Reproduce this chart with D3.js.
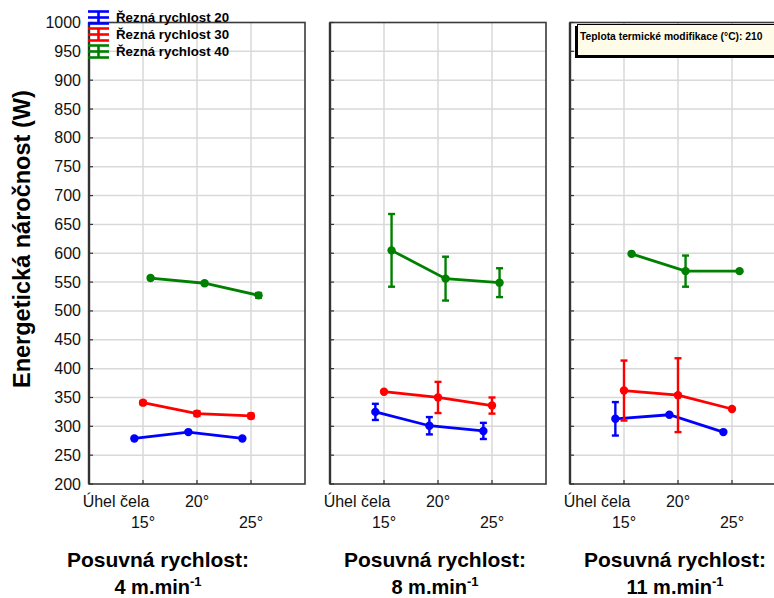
<!DOCTYPE html>
<html>
<head>
<meta charset="utf-8">
<script src="https://cdn.jsdelivr.net/npm/d3@7"></script>
<style>
  html, body { margin: 0; padding: 0; background: #fff; overflow: hidden; }
  svg { display: block; font-family: "Liberation Sans", Arial, sans-serif; }
</style>
</head>
<body>
<svg id="chart" width="774" height="598"></svg>
<script>
// Cutting angle categories and feed-speed panels
const angles = ["15°", "20°", "25°"];
const feedSpeeds = ["4", "8", "11"];
const seriesNames = ["Řezná rychlost 20", "Řezná rychlost 30", "Řezná rychlost 40"];
const yTicks = [200, 250, 300, 350, 400, 450, 500, 550, 600, 650, 700, 750, 800, 850, 900, 950, 1000];

// Mean energy demand (W); one row per panel (feed speed), one value per angle
const speed20Mean = [[279, 290, 279], [325, 301, 292], [313, 320, 290]];
const speed30Mean = [[341, 322, 318], [360, 350, 336], [362, 354, 330]];
const speed40Mean = [[557, 548, 527], [605, 556, 549], [599, 569, 569]];

// Half-width of the error bars (W)
const speed20Err = [[0, 0, 0], [14, 15, 14], [29, 0, 0]];
const speed30Err = [[3, 4, 4], [0, 27, 14], [52, 64, 0]];
const speed40Err = [[2, 2, 4], [63, 38, 25], [0, 27, 0]];

const infoText = "Teplota termické modifikace (°C): 210";

const colors = ["#0000ff", "#ff0000", "#008000"];
const seriesMeans = [speed20Mean, speed30Mean, speed40Mean];
const seriesErrs = [speed20Err, speed30Err, speed40Err];
const seriesShift = [-0.16, 0, 0.14];   // horizontal dodge in category units

const svg = d3.select("#chart");

const panelLeft = [89, 330, 570];
const panelW = 216;
const plotTop = 22.5, plotBottom = 484;
const labelCenters = [158, 435, 675];

const y = d3.scaleLinear().domain([200, 1000]).range([plotBottom, plotTop]);

feedSpeeds.forEach((feed, p) => {
  const x = d3.scaleLinear().domain([0, 4]).range([panelLeft[p], panelLeft[p] + panelW]);
  const g = svg.append("g");

  // grid
  g.selectAll("line.hg").data(yTicks.slice(1, -1)).join("line")
    .attr("x1", x(0)).attr("x2", x(4))
    .attr("y1", d => y(d)).attr("y2", d => y(d))
    .attr("stroke", "#d9d9d9").attr("stroke-width", 1.5);
  g.selectAll("line.vg").data([1, 2, 3]).join("line")
    .attr("x1", d => x(d)).attr("x2", d => x(d))
    .attr("y1", plotTop).attr("y2", plotBottom)
    .attr("stroke", "#d9d9d9").attr("stroke-width", 1.5);

  // frame
  g.append("rect").attr("x", x(0)).attr("y", plotTop)
    .attr("width", panelW).attr("height", plotBottom - plotTop)
    .attr("fill", "none").attr("stroke", "#3a3a3a").attr("stroke-width", 1.6);
  g.append("line").attr("x1", x(0)).attr("x2", x(0)).attr("y1", plotTop).attr("y2", plotBottom)
    .attr("stroke", "#333").attr("stroke-width", 2.4);

  // inner ticks
  g.selectAll("line.yt").data(yTicks).join("line")
    .attr("x1", x(0)).attr("x2", x(0) + 4)
    .attr("y1", d => y(d)).attr("y2", d => y(d))
    .attr("stroke", "#333").attr("stroke-width", 1.2);
  g.selectAll("line.xt").data([1, 2, 3]).join("line")
    .attr("x1", d => x(d)).attr("x2", d => x(d))
    .attr("y1", plotBottom).attr("y2", plotBottom - 4)
    .attr("stroke", "#333").attr("stroke-width", 1.2);

  // y tick labels on the first panel only
  if (p === 0) {
    svg.selectAll("text.ytl").data(yTicks).join("text")
      .attr("x", 81).attr("y", d => y(d) + 5.5)
      .attr("text-anchor", "end").attr("font-size", 16).attr("fill", "#111")
      .text(d => d);
  }

  // x labels
  g.append("text").attr("x", x(0.5)).attr("y", 507).attr("text-anchor", "middle")
    .attr("font-size", 16).attr("fill", "#111").text("Úhel čela");
  angles.forEach((a, i) => {
    g.append("text").attr("x", x(i + 1)).attr("y", i === 1 ? 507 : 528)
      .attr("text-anchor", "middle").attr("font-size", 16).attr("fill", "#111").text(a);
  });

  // series
  seriesMeans.forEach((means, s) => {
    const pts = means[p].map((v, i) => ({ cx: x(i + 1 + seriesShift[s]), v, e: seriesErrs[s][p][i] }));
    const line = d3.line().x(d => d.cx).y(d => y(d.v));
    g.append("path").attr("d", line(pts)).attr("fill", "none")
      .attr("stroke", colors[s]).attr("stroke-width", 2.8);
    pts.filter(d => d.e > 0).forEach(d => {
      g.append("line").attr("x1", d.cx).attr("x2", d.cx)
        .attr("y1", y(d.v + d.e)).attr("y2", y(d.v - d.e))
        .attr("stroke", colors[s]).attr("stroke-width", 2.4);
      [d.v + d.e, d.v - d.e].forEach(t => {
        g.append("line").attr("x1", d.cx - 3.5).attr("x2", d.cx + 3.5)
          .attr("y1", y(t)).attr("y2", y(t))
          .attr("stroke", colors[s]).attr("stroke-width", 2.4);
      });
    });
    g.selectAll(null).data(pts).join("circle")
      .attr("cx", d => d.cx).attr("cy", d => y(d.v)).attr("r", 4.2)
      .attr("fill", colors[s]);
  });

  // feed-speed caption
  svg.append("text").attr("x", labelCenters[p]).attr("y", 567)
    .attr("text-anchor", "middle").attr("font-size", 21).attr("font-weight", "bold")
    .attr("fill", "#000").text("Posuvná rychlost:");
  const cap2 = svg.append("text").attr("x", labelCenters[p]).attr("y", 594)
    .attr("text-anchor", "middle").attr("font-size", 20).attr("font-weight", "bold")
    .attr("fill", "#000");
  cap2.append("tspan").text(feed + " m.min");
  cap2.append("tspan").attr("dy", -8).attr("font-size", 13).text("-1");
});

// y axis title
svg.append("text")
  .attr("transform", "translate(30,388) rotate(-90)")
  .attr("text-anchor", "start").attr("font-size", 23.5).attr("font-weight", "bold")
  .attr("fill", "#000").text("Energetická náročnost (W)");

// legend
const legend = svg.append("g");
seriesNames.forEach((name, i) => {
  const cy = 17.5 + i * 17, cx = 98.5;
  const lg = legend.append("g").attr("stroke", colors[i]).attr("stroke-width", 2.6);
  [-6, 0, 6].forEach(dy => lg.append("line").attr("x1", 88).attr("x2", 109)
    .attr("y1", cy + dy).attr("y2", cy + dy));
  lg.append("line").attr("x1", cx).attr("x2", cx).attr("y1", cy - 6).attr("y2", cy + 6);
  legend.append("text").attr("x", 116).attr("y", cy + 4.5)
    .attr("font-size", 13.3).attr("font-weight", "bold").attr("fill", "#000").text(name);
});

// info box in the last panel
svg.append("rect").attr("x", 575).attr("y", 26).attr("width", 220).attr("height", 32).attr("fill", "#000");
svg.append("rect").attr("x", 577.5).attr("y", 24.5).attr("width", 220).attr("height", 31)
  .attr("fill", "#fffbe9").attr("stroke", "#000").attr("stroke-width", 1);
svg.append("text").attr("x", 580).attr("y", 40).attr("font-size", 10.3).attr("font-weight", "bold")
  .attr("fill", "#000").text(infoText);
</script>
</body>
</html>
